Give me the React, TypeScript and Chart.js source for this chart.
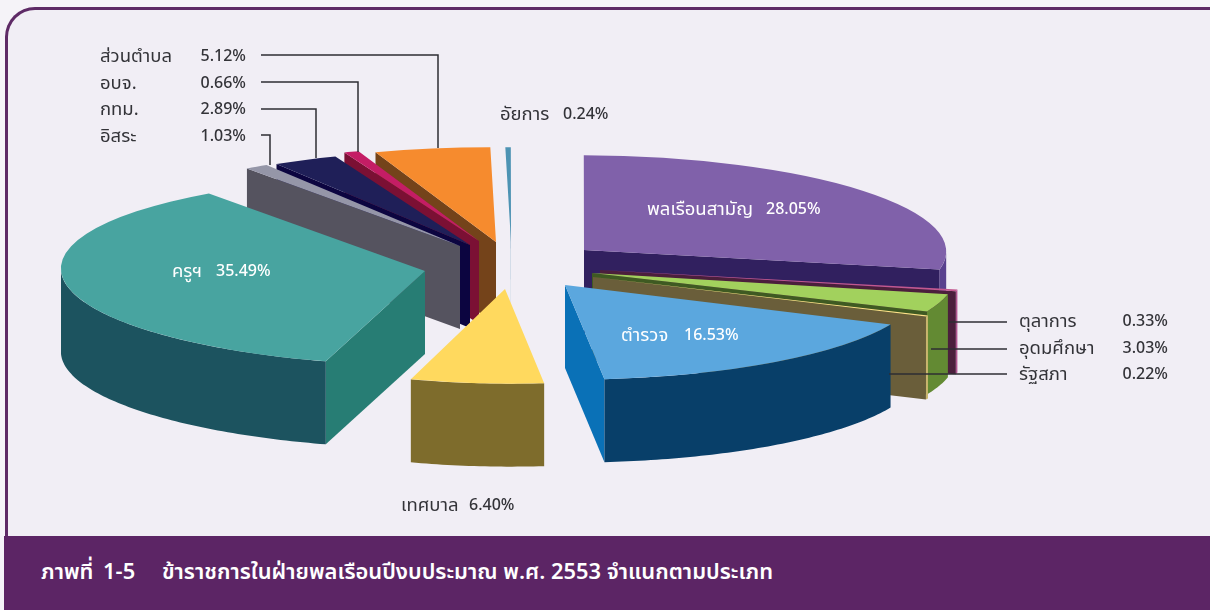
import React, { useEffect, useRef } from "react";
import { Chart, registerables } from "chart.js";

Chart.register(...registerables);

// Clockwise from 12 o'clock
const categories = ["อัยการ", "พลเรือนสามัญ", "ตุลาการ", "อุดมศึกษา", "รัฐสภา", "ตำรวจ", "เทศบาล", "ครูฯ", "อิสระ", "กทม.", "อบจ.", "ส่วนตำบล"];
const values = [0.24, 28.05, 0.33, 3.03, 0.22, 16.53, 6.4, 35.49, 1.03, 2.89, 0.66, 5.12];
const valueLabels = ["0.24%", "28.05%", "0.33%", "3.03%", "0.22%", "16.53%", "6.40%", "35.49%", "1.03%", "2.89%", "0.66%", "5.12%"];

const topColors = ["#4d93b3", "#8061aa", "#c2588f", "#a2d15d", "#ffe08a", "#5ba7de", "#ffd95e", "#48a4a0", "#9596a8", "#1f1f58", "#c41d65", "#f68b2e"];
const rimColors = ["#0d5e8c", "#59418e", "#b0558f", "#638a33", "#c9b56e", "#083f69", "#7e6c2c", "#1c535f", "#55535f", "#0c0540", "#7b1034", "#74431a"];
const cutColors = ["#0d5e8c", "#31205f", "#4b1f3c", "#3f5a22", "#6a5e3a", "#0a71b7", "#7e6c2c", "#277d74", "#55535f", "#0c0540", "#7b1034", "#74431a"];

// How far each slice is pulled out of the pie, in screen pixels
const pullX = [8, 81, 97, 89, 90, 62, 2, -78, -43, -33, -24, -7];
const pullY = [-23, -15, 5, 8, 12, 20, 24, 6, -19, -20, -24, -23];
// Per-slice projection of the drawing's perspective
const skewX = [0.06, 0.06, 0.06, 0.06, 0.06, 0.04, 0.06, 0.1, 0.06, 0.06, 0.06, 0.06];
const squeezeX = [1, 0.995, 1, 1, 1, 0.98, 0.92, 1, 1, 1, 1, 1];

const PIE_RADIUS = 364;
const TILT = 0.26;
const DEPTH = 83;
const FONT = "'Noto Sans Thai','Noto Sans',Inter,sans-serif";

const pie3d = {
  id: "pie3d",
  beforeDatasetDraw(chart: any) {
    const ctx = chart.ctx;
    const arcs = chart.getDatasetMeta(0).data as any[];
    const mid = (a: any) => (a.startAngle + a.endAngle) / 2;
    const order = arcs
      .map((a, i) => ({ a, i, key: pullY[i] + (Math.sin(mid(a)) * TILT * a.outerRadius) / 2 }))
      .sort((p, q) => p.key - q.key);
    for (const { a, i } of order) {
      const cx = a.x + pullX[i];
      const cy = a.y + pullY[i];
      const r = a.outerRadius;
      const dy = (t: number) => Math.sin(t) * r * TILT;
      const px = (t: number) => cx + Math.cos(t) * r * squeezeX[i] + skewX[i] * dy(t);
      const py = (t: number) => cy + dy(t);
      const cut = (t: number) => {
        ctx.beginPath();
        ctx.moveTo(cx, cy);
        ctx.lineTo(px(t), py(t));
        ctx.lineTo(px(t), py(t) + DEPTH);
        ctx.lineTo(cx, cy + DEPTH);
        ctx.closePath();
        ctx.fillStyle = cutColors[i];
        ctx.fill();
      };
      if (Math.cos(a.startAngle) < 0) cut(a.startAngle);
      if (Math.cos(a.endAngle) > 0) cut(a.endAngle);
      // outer rim: only the part of the arc that faces the viewer
      for (const shift of [-2 * Math.PI, 0, 2 * Math.PI]) {
        const s = Math.max(a.startAngle, shift);
        const e = Math.min(a.endAngle, shift + Math.PI);
        if (e <= s) continue;
        ctx.beginPath();
        const n = Math.max(2, Math.ceil((e - s) * 60));
        for (let k = 0; k <= n; k++) {
          const t = s + ((e - s) * k) / n;
          ctx.lineTo(px(t), py(t));
        }
        for (let k = n; k >= 0; k--) {
          const t = s + ((e - s) * k) / n;
          ctx.lineTo(px(t), py(t) + DEPTH);
        }
        ctx.closePath();
        ctx.fillStyle = rimColors[i];
        ctx.fill();
      }
      ctx.save();
      ctx.translate(cx, cy);
      ctx.transform(squeezeX[i], 0, skewX[i] * TILT, TILT, 0, 0);
      ctx.translate(-a.x, -a.y);
      a.draw(ctx);
      ctx.restore();
    }
    return false;
  },
  afterDraw(chart: any) {
    const ctx = chart.ctx;
    ctx.save();
    ctx.textBaseline = "middle";
    const label = (i: number, x: number, vx: number, y: number, color: string, vAlign: CanvasTextAlign = "left") => {
      ctx.fillStyle = color;
      ctx.textAlign = "left";
      ctx.font = `18.5px ${FONT}`;
      ctx.fillText(categories[i], x, y);
      ctx.textAlign = vAlign;
      ctx.font = `500 16px ${FONT}`;
      ctx.fillText(valueLabels[i], vx, y);
    };
    const dark = "#333338";
    label(11, 100, 246, 58, dark, "right");
    label(10, 100, 246, 85, dark, "right");
    label(9, 100, 246, 111, dark, "right");
    label(8, 100, 246, 138, dark, "right");
    label(0, 500, 563, 116, dark);
    label(2, 1019, 1168, 323, dark, "right");
    label(3, 1019, 1168, 350, dark, "right");
    label(4, 1019, 1168, 376, dark, "right");
    label(6, 401, 469, 507, dark);
    label(1, 647, 766, 211, "#ffffff");
    label(7, 172, 216, 273, "#ffffff");
    label(5, 621, 684, 337, "#ffffff");
    ctx.strokeStyle = "#2e2e33";
    ctx.lineWidth = 1.5;
    const leaders = [
      [[261, 55], [438, 55], [438, 148]],
      [[261, 82], [358, 82], [358, 152]],
      [[261, 109], [316, 109], [316, 158]],
      [[261, 135], [270, 135], [270, 165]],
      [[949, 322], [1007, 322]],
      [[931, 349], [1007, 349]],
      [[889, 374], [1007, 374]],
    ];
    for (const l of leaders) {
      ctx.beginPath();
      l.forEach(([x, y]) => ctx.lineTo(x, y));
      ctx.stroke();
    }
    ctx.restore();
  },
};

export default function App() {
  const ref = useRef<HTMLCanvasElement>(null);
  useEffect(() => {
    const chart = new Chart(ref.current!, {
      type: "pie",
      data: {
        labels: categories,
        datasets: [{ data: values, backgroundColor: topColors, borderWidth: 0 }],
      },
      options: {
        responsive: false,
        animation: false,
        radius: PIE_RADIUS,
        layout: { padding: { left: 0, right: 204, top: 0, bottom: 80 } },
        plugins: { legend: { display: false }, tooltip: { enabled: false }, title: { display: false } },
      } as any,
      plugins: [pie3d as any],
    });
    return () => chart.destroy();
  }, []);
  return (
    <div style={{ position: "fixed", left: 0, top: 0, width: 1210, height: 610, overflow: "hidden", background: "#f5f3f8" }}>
      <div
        style={{
          position: "absolute", left: 5, top: 7, width: 1300, height: 560, boxSizing: "border-box",
          background: "#f1eef5", borderTop: "3px solid #5e2a66", borderLeft: "3px solid #5e2a66", borderTopLeftRadius: 30,
        }}
      />
      <div
        style={{
          position: "absolute", left: 4, top: 536, width: 1300, height: 74, background: "#5c2565",
          color: "#fff", fontFamily: FONT, fontWeight: 600, fontSize: 21.9,
          lineHeight: "73px", whiteSpace: "pre",
        }}
      >
        <span style={{ position: "absolute", left: 37, wordSpacing: 4 }}>ภาพที่ 1-5</span>
        <span style={{ position: "absolute", left: 158 }}>ข้าราชการในฝ่ายพลเรือนปีงบประมาณ พ.ศ. 2553 จำแนกตามประเภท</span>
      </div>
      <canvas ref={ref} width={1210} height={610} style={{ position: "absolute", left: 0, top: 0, display: "block" }} />
    </div>
  );
}
